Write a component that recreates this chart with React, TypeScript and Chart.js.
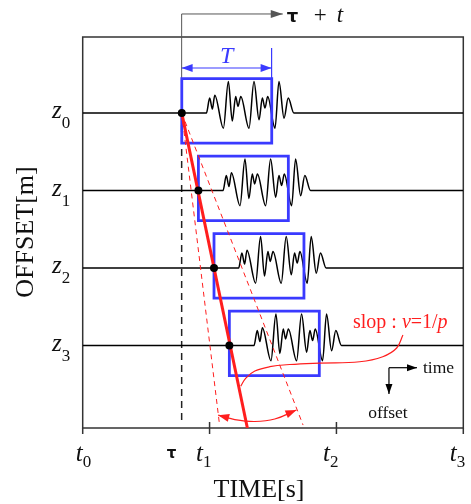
import React, { useEffect, useRef } from "react";
import { Chart, registerables } from "chart.js";
Chart.register(...registerables);

// ---- data (time axis in t-units: t0=0 ... t3=3; offset axis: z0=1 ... z3=4) ----
const xTicks = [0, 1, 2, 3];
const xTickSubs = ["0", "1", "2", "3"];
const xInnerTicks = [false, true, true, false];
const offsets = [1, 2, 3, 4];
const offsetSubs = ["0", "1", "2", "3"];
const tau = 0.78;
const onsetTimes = [0.781, 0.912, 1.035, 1.156];
const windowT = 0.709;
const boxAbove = 0.446;
const boxBelow = 0.387;
const waveDt = [0.194, 0.22, 0.241, 0.26, 0.328, 0.367, 0.398, 0.425, 0.443, 0.465, 0.53, 0.569, 0.609, 0.635, 0.656, 0.677, 0.735, 0.766, 0.806, 0.839, 0.884];
const waveAmp = [0, 0.194, 0.052, 0.232, -0.194, 0.408, -0.103, 0.215, 0.086, 0.215, -0.194, 0.408, -0.086, 0.194, 0.065, 0.215, -0.194, 0.408, -0.065, 0.194, 0];
const fitLine = [{ x: 0.781, y: 1 }, { x: 1.298, y: 5.063 }];
const fitLow = [{ x: 0.781, y: 1 }, { x: 1.077, y: 5.0 }];
const fitHigh = [{ x: 0.781, y: 1 }, { x: 1.737, y: 5.025 }];
const arcPts = [
  { x: 1.068, y: 4.897 },
  { x: 1.199, y: 4.954 },
  { x: 1.357, y: 4.979 },
  { x: 1.514, y: 4.947 },
  { x: 1.685, y: 4.831 },
];
const calloutPts = [
  { x: 2.524, y: 3.863 },
  { x: 2.475, y: 4.031 },
  { x: 2.365, y: 4.143 },
  { x: 2.183, y: 4.208 },
  { x: 1.868, y: 4.225 },
  { x: 1.632, y: 4.244 },
  { x: 1.475, y: 4.272 },
  { x: 1.357, y: 4.328 },
  { x: 1.286, y: 4.419 },
  { x: 1.246, y: 4.522 },
];
const topArrow = [{ x: 0.78, y: 1 }, { x: 0.78, y: -0.279 }, { x: 1.577, y: -0.279 }];
const tauDash = [{ x: 0.78, y: 1 }, { x: 0.78, y: 5.0 }];
const tArrow = [{ x: 0.78, y: 0.418 }, { x: 1.489, y: 0.418 }];
const tTick = [{ x: 1.489, y: 0.16 }, { x: 1.489, y: 0.547 }];
const timeArrow = [{ x: 2.414, y: 4.285 }, { x: 2.635, y: 4.285 }];
const offsetArrow = [{ x: 2.414, y: 4.285 }, { x: 2.414, y: 4.625 }];

const BLUE = "rgb(58,58,255)";
const RED = "rgb(255,30,30)";
const SERIF = '"Liberation Serif", "DejaVu Serif", serif';

function arrowHead(ctx: CanvasRenderingContext2D, x: number, y: number, ang: number, len: number, wid: number, color: string) {
  const dx = Math.cos(ang), dy = Math.sin(ang);
  const bx = x - dx * len, by = y - dy * len;
  ctx.save();
  ctx.fillStyle = color;
  ctx.beginPath();
  ctx.moveTo(x, y);
  ctx.lineTo(bx - dy * wid / 2, by + dx * wid / 2);
  ctx.lineTo(bx + dy * wid / 2, by - dx * wid / 2);
  ctx.closePath();
  ctx.fill();
  ctx.restore();
}

function subText(ctx: CanvasRenderingContext2D, main: string, sub: string, x: number, y: number, mainSize: number, subSize: number, subDrop: number, color = "#111") {
  ctx.save();
  ctx.fillStyle = color;
  ctx.textBaseline = "alphabetic";
  ctx.textAlign = "left";
  ctx.font = `italic ${mainSize}px ${SERIF}`;
  ctx.fillText(main, x, y);
  const w = ctx.measureText(main).width;
  ctx.font = `${subSize}px ${SERIF}`;
  ctx.fillText(sub, x + w, y + subDrop);
  ctx.restore();
}

const overlayPlugin = {
  id: "overlay",
  beforeDatasetsDraw(chart: any) {
    const { ctx, chartArea: a, scales } = chart;
    ctx.save();
    ctx.strokeStyle = "#333";
    ctx.lineWidth = 1.5;
    ctx.strokeRect(a.left, a.top, a.right - a.left, a.bottom - a.top);
    xTicks.forEach((v, i) => {
      const px = scales.x.getPixelForValue(v);
      ctx.beginPath();
      ctx.moveTo(px, xInnerTicks[i] ? a.bottom - 6 : a.bottom);
      ctx.lineTo(px, a.bottom + 6);
      ctx.stroke();
    });
    ctx.restore();
  },
  afterDatasetsDraw(chart: any) {
    const { ctx } = chart;
    chart.data.datasets.forEach((ds: any, i: number) => {
      const pts = chart.getDatasetMeta(i).data;
      if (!pts || pts.length < 2) return;
      if (ds.arrowEnd) {
        const e = pts[pts.length - 1], p = pts[pts.length - 2];
        arrowHead(ctx, e.x, e.y, Math.atan2(e.y - p.y, e.x - p.x), ds.arrowEnd[0], ds.arrowEnd[1], ds.borderColor);
      }
      if (ds.arrowStart) {
        const e = pts[0], p = pts[1];
        arrowHead(ctx, e.x, e.y, Math.atan2(e.y - p.y, e.x - p.x), ds.arrowStart[0], ds.arrowStart[1], ds.borderColor);
      }
    });
  },
  afterDraw(chart: any) {
    const { ctx, chartArea: a, scales } = chart;
    const X = (v: number) => scales.x.getPixelForValue(v);
    const Y = (v: number) => scales.y.getPixelForValue(v);
    // x tick labels
    xTicks.forEach((v, i) => {
      const px = X(v);
      const left = i === 0 ? px - 7 : px - 13.5;
      subText(ctx, "t", xTickSubs[i], left, a.bottom + 33, 25, 17, 6);
    });
    ctx.save();
    ctx.fillStyle = "#111";
    ctx.font = `bold 15px "DejaVu Sans"`;
    ctx.textAlign = "center";
    ctx.fillText("τ", X(tau) - 10, a.bottom + 30);
    ctx.restore();
    // y labels
    offsets.forEach((v, i) => {
      subText(ctx, "z", offsetSubs[i], 52, Y(v) + 5, 25, 17, 10);
    });
    // axis titles
    ctx.save();
    ctx.fillStyle = "#111";
    ctx.font = `26px ${SERIF}`;
    ctx.textAlign = "center";
    ctx.fillText("TIME[s]", (a.left + a.right) / 2 - 14, 497);
    ctx.translate(33, 232);
    ctx.rotate(-Math.PI / 2);
    ctx.fillText("OFFSET[m]", 0, 0);
    ctx.restore();
    // top label tau + t
    const tipX = X(topArrow[2].x), tipY = Y(topArrow[2].y);
    ctx.save();
    ctx.fillStyle = "#111";
    ctx.font = `bold 18px "DejaVu Sans"`;
    ctx.fillText("τ", tipX + 4, tipY + 8);
    ctx.font = `23px ${SERIF}`;
    ctx.fillText("+", tipX + 31, tipY + 8);
    ctx.font = `italic 23px ${SERIF}`;
    ctx.fillText("t", tipX + 54, tipY + 8);
    ctx.restore();
    // T label
    ctx.save();
    ctx.fillStyle = BLUE;
    ctx.font = `italic 24px ${SERIF}`;
    ctx.textAlign = "center";
    ctx.fillText("T", (X(tArrow[0].x) + X(tArrow[1].x)) / 2, Y(tArrow[0].y) - 5);
    ctx.restore();
    // slop label
    ctx.save();
    ctx.fillStyle = RED;
    let sx = 353;
    const sy = 328;
    const parts: [string, boolean][] = [["slop : ", false], ["v", true], ["=1/", false], ["p", true]];
    parts.forEach(([s, it]) => {
      ctx.font = `${it ? "italic " : ""}20px ${SERIF}`;
      ctx.fillText(s, sx, sy);
      sx += ctx.measureText(s).width;
    });
    ctx.restore();
    // time / offset
    ctx.save();
    ctx.fillStyle = "#111";
    ctx.font = `17.5px ${SERIF}`;
    ctx.fillText("time", X(timeArrow[1].x) + 6, Y(timeArrow[1].y) + 5);
    ctx.textAlign = "center";
    ctx.fillText("offset", X(offsetArrow[1].x) - 1, Y(offsetArrow[1].y) + 24);
    ctx.restore();
  },
};

export default function App() {
  const ref = useRef<HTMLCanvasElement | null>(null);
  useEffect(() => {
    if (!ref.current) return;
    const line = (data: any[], color: string, width: number, extra: any = {}) => ({
      data,
      showLine: true,
      borderColor: color,
      backgroundColor: color,
      borderWidth: width,
      pointRadius: 0,
      tension: 0,
      ...extra,
    });
    const datasets: any[] = [];
    // dots
    datasets.push({
      data: onsetTimes.map((t, i) => ({ x: t, y: offsets[i] })),
      showLine: false,
      pointRadius: 4,
      pointBackgroundColor: "#000",
      pointBorderWidth: 0,
      order: 0,
    });
    datasets.push(line(fitLine, RED, 3, { order: 1 }));
    datasets.push(line(fitLow, RED, 1, { order: 2, borderDash: [5, 4] }));
    datasets.push(line(fitHigh, RED, 1, { order: 2, borderDash: [5, 4] }));
    datasets.push(line(arcPts, RED, 1.2, { order: 2, tension: 0.4, arrowStart: [11, 8], arrowEnd: [11, 8] }));
    datasets.push(line(calloutPts, RED, 1.2, { order: 2, tension: 0.4 }));
    onsetTimes.forEach((o, i) => {
      const z = offsets[i];
      datasets.push(
        line(
          [
            { x: o, y: z - boxAbove },
            { x: o + windowT, y: z - boxAbove },
            { x: o + windowT, y: z + boxBelow },
            { x: o, y: z + boxBelow },
            { x: o, y: z - boxAbove },
          ],
          BLUE,
          2.8,
          { order: 3, borderCapStyle: "square", borderJoinStyle: "miter" }
        )
      );
    });
    onsetTimes.forEach((o, i) => {
      const z = offsets[i];
      datasets.push(
        line(
          [{ x: 0, y: z }, ...waveDt.map((d, k) => ({ x: o + d, y: z - waveAmp[k] })), { x: 3, y: z }],
          "#000",
          1.5,
          { order: 4, cubicInterpolationMode: "monotone" }
        )
      );
    });
    datasets.push(line(topArrow, "#555", 1, { order: 5, clip: false, arrowEnd: [12, 8] }));
    datasets.push(line(tauDash, "#222", 1.5, { order: 5, borderDash: [7, 5] }));
    datasets.push(line(tArrow, BLUE, 1.2, { order: 5, arrowStart: [11, 8], arrowEnd: [11, 8] }));
    datasets.push(line(tTick, BLUE, 1.2, { order: 5 }));
    datasets.push(line(timeArrow, "#000", 1.2, { order: 5, clip: false, arrowEnd: [10, 7] }));
    datasets.push(line(offsetArrow, "#000", 1.2, { order: 5, clip: false, arrowEnd: [10, 7] }));

    const chart = new Chart(ref.current, {
      type: "scatter",
      data: { datasets },
      options: {
        responsive: false,
        animation: false,
        events: [],
        layout: { padding: { left: 82.7, right: 7.7, top: 37, bottom: 76 } },
        plugins: { legend: { display: false }, tooltip: { enabled: false } },
        scales: {
          x: { type: "linear", min: 0, max: 3, display: false },
          y: { type: "linear", min: 0.018, max: 5.063, reverse: true, display: false },
        },
      },
      plugins: [overlayPlugin],
    } as any);
    return () => chart.destroy();
  }, []);
  return (
    <div style={{ position: "fixed", left: 0, top: 0, width: 471, height: 504, background: "#fff" }}>
      <canvas ref={ref} width={471} height={504} />
    </div>
  );
}
